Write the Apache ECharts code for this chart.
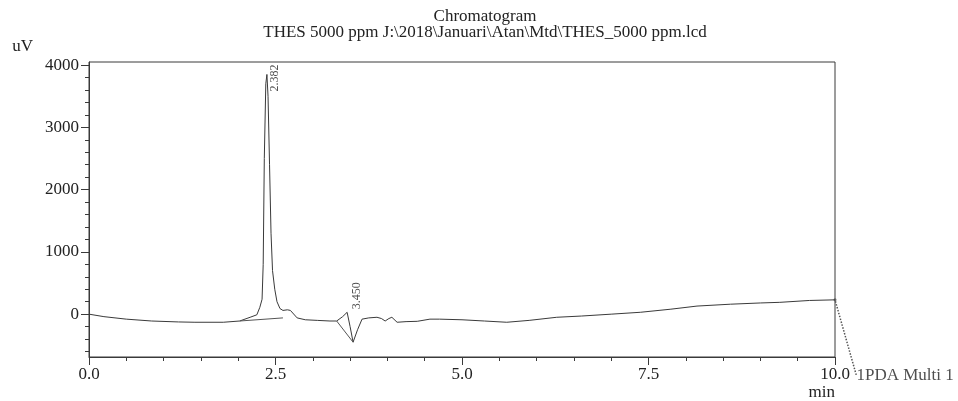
<!DOCTYPE html>
<html>
<head>
<meta charset="utf-8">
<script src="https://cdn.jsdelivr.net/npm/echarts@6/dist/echarts.min.js"></script>
<style>html,body{margin:0;padding:0;background:#fff;}#c{width:958px;height:401px;}</style>
</head>
<body>
<div id="c"></div>
<script>
// ---- data ----
const titleMain = 'Chromatogram';
const titleSub = 'THES 5000 ppm J:\\2018\\Januari\\Atan\\Mtd\\THES_5000 ppm.lcd';
const xUnit = 'min';
const yUnit = 'uV';
const channelName = '1PDA Multi 1';
const xTicks = [0, 2.5, 5, 7.5, 10];
const yTicks = [0, 1000, 2000, 3000, 4000];
const yMinorTicks = [-600, -400, -200, 200, 400, 600, 800, 1200, 1400, 1600, 1800, 2200, 2400, 2600, 2800, 3200, 3400, 3600, 3800];
const timeMin = [0, 0.2, 0.5, 0.84, 1.2, 1.42, 1.8, 2.02, 2.16, 2.25, 2.29, 2.32, 2.335, 2.35, 2.37, 2.385, 2.40, 2.42, 2.44, 2.46, 2.49, 2.52, 2.56, 2.60, 2.66, 2.70, 2.79, 2.9, 3.06, 3.23, 3.32, 3.40, 3.46, 3.50, 3.54, 3.60, 3.66, 3.75, 3.86, 3.92, 3.97, 4.02, 4.06, 4.13, 4.25, 4.4, 4.57, 4.7, 5.0, 5.3, 5.6, 5.9, 6.27, 6.6, 7.0, 7.39, 7.8, 8.15, 8.6, 9.0, 9.26, 9.66, 10.0];
const signal = [0, -40, -80, -110, -125, -130, -130, -110, -50, -10, 110, 240, 800, 2500, 3700, 3850, 3500, 2400, 1300, 700, 400, 200, 90, 60, 70, 60, -60, -90, -100, -110, -110, -40, 30, -200, -450, -250, -80, -60, -50, -70, -110, -70, -50, -130, -120, -115, -80, -80, -90, -110, -130, -100, -50, -30, 0, 30, 80, 130, 160, 180, 190, 220, 230];
const baseline1 = [[2.02, -110], [2.60, -60]];
const baseline2 = [[3.32, -110], [3.54, -450]];
const peakTimes = [2.385, 3.46];
const peakHeights = [3850, 30];
const peakLabels = ['2.382', '3.450'];
const endPoint = [10.0, 230];

// ---- chart ----
const serif = '"Liberation Serif", "DejaVu Serif", serif';
const txt = '#222';
const lineCol = '#3a3a3a';
// offsets in the label's rotated frame: [along text (up), across (right)]
const labelOffsets = [[-17, 8], [3, 10]];

const chart = echarts.init(document.getElementById('c'));
const option = {
  animation: false,
  backgroundColor: '#fff',
  title: [
    { text: titleMain, left: 480, top: 3, textAlign: 'center',
      textStyle: { fontFamily: serif, fontSize: 17, fontWeight: 'normal', color: txt, lineHeight: 18 } },
    { text: titleSub, left: 480, top: 19, textAlign: 'center',
      textStyle: { fontFamily: serif, fontSize: 17, fontWeight: 'normal', color: txt, lineHeight: 18 } }
  ],
  grid: { left: 89, right: 123, top: 62, bottom: 43, show: true, borderColor: lineCol, borderWidth: 1, containLabel: false },
  xAxis: {
    type: 'value', min: 0, max: 10, interval: 2.5,
    name: xUnit, nameLocation: 'end', nameGap: 0,
    nameTextStyle: { fontFamily: serif, fontSize: 17, color: txt, align: 'right', verticalAlign: 'top', padding: [27, 0, 0, 0] },
    axisLine: { show: true, onZero: false, lineStyle: { color: lineCol, width: 1 } },
    axisTick: { show: true, inside: false, length: 8, lineStyle: { color: lineCol } },
    minorTick: { show: true, splitNumber: 5, length: 4, lineStyle: { color: lineCol } },
    axisLabel: { fontFamily: serif, fontSize: 17, color: txt, margin: 9, formatter: v => v.toFixed(1) },
    splitLine: { show: false }
  },
  yAxis: [
    {
      type: 'value', min: -688, max: 4050,
      name: yUnit, nameLocation: 'end', nameGap: 7,
      nameTextStyle: { fontFamily: serif, fontSize: 17, color: txt, align: 'right', padding: [0, 56, 0, 0] },
      axisLine: { show: true, onZero: false, lineStyle: { color: lineCol, width: 1 } },
      axisTick: { show: true, length: 8, customValues: yTicks, lineStyle: { color: lineCol } },
      axisLabel: { fontFamily: serif, fontSize: 17, color: txt, margin: 10, customValues: yTicks, formatter: v => String(v) },
      splitLine: { show: false }
    },
    {
      type: 'value', min: -688, max: 4050, position: 'left',
      axisLine: { show: false },
      axisTick: { show: true, length: 4, customValues: yMinorTicks, lineStyle: { color: lineCol } },
      axisLabel: { show: false, customValues: yMinorTicks },
      splitLine: { show: false }
    }
  ],
  series: [
    {
      type: 'line', data: timeMin.map((t, i) => [t, signal[i]]),
      symbol: 'none', lineStyle: { color: lineCol, width: 1 }, z: 3
    },
    {
      type: 'line', data: baseline1, symbol: 'none', lineStyle: { color: '#555', width: 1 }
    },
    {
      type: 'line', data: baseline2, symbol: 'none', lineStyle: { color: '#555', width: 1 }
    },
    {
      type: 'scatter', symbolSize: 0,
      data: peakTimes.map((t, i) => ({
        value: [t, peakHeights[i], peakLabels[i]],
        label: { offset: labelOffsets[i] }
      })),
      label: {
        show: true, position: 'inside', rotate: 90, align: 'left', verticalAlign: 'middle',
        fontFamily: serif, fontSize: 12, color: txt, formatter: p => p.value[2]
      }
    },
    {
      type: 'scatter', symbolSize: 3, itemStyle: { color: '#555' },
      data: [endPoint],
      label: { show: true, position: 'right', distance: 0, fontFamily: serif, fontSize: 17, color: txt, formatter: channelName },
      labelLayout: { dx: 20, dy: 76 },
      labelLine: { show: true, lineStyle: { type: 'dotted', color: '#555', width: 1.5 } }
    }
  ]
};
chart.setOption(option);
</script>
</body>
</html>
